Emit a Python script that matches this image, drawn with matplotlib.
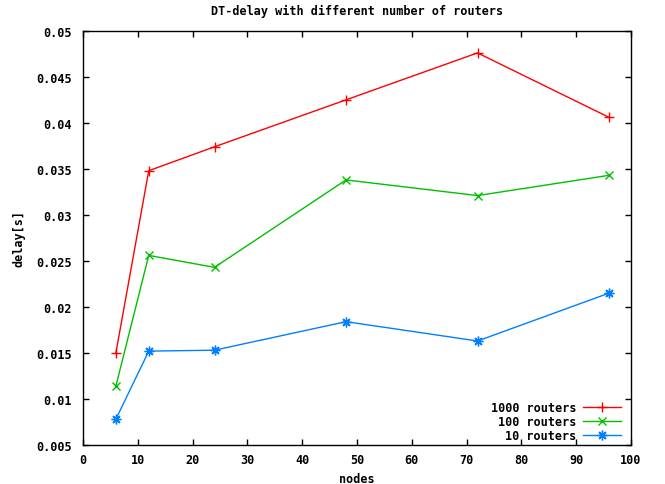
import matplotlib
matplotlib.use('Agg')
import matplotlib.pyplot as plt

# data
nodes = [6, 12, 24, 48, 72, 96]
delay_1000 = [0.0150, 0.0348, 0.0374, 0.0425, 0.0476, 0.0406]
delay_100 = [0.0114, 0.0256, 0.0243, 0.0338, 0.0321, 0.0343]
delay_10 = [0.0078, 0.0152, 0.0153, 0.0184, 0.0163, 0.0215]
labels = ['1000 routers', '100 routers', '10 routers']

xticks = list(range(0, 101, 10))
yticks = [0.005 * i for i in range(1, 11)]

plt.rcParams['font.family'] = 'DejaVu Sans Mono'
plt.rcParams['font.weight'] = 'bold'
plt.rcParams['font.size'] = 8.5

fig = plt.figure(figsize=(6.65, 4.85), dpi=100)
ax = fig.add_axes([0.1248, 0.0804, 0.824, 0.854])

ax.plot(nodes, delay_1000, color='#ff0000', marker='+', ms=7, mew=1, lw=1, label=labels[0])
ax.plot(nodes, delay_100, color='#00c000', marker='x', ms=6, mew=1, lw=1, label=labels[1])
ax.plot(nodes, delay_10, color='#0080ff', marker=(8, 2, 0), ms=7, mew=1, lw=1, label=labels[2])

ax.set_xlim(0, 100)
ax.set_ylim(0.005, 0.05)
ax.set_xticks(xticks)
ax.set_yticks(yticks)
ax.set_xticklabels([str(t) for t in xticks])
ax.set_yticklabels(['%g' % round(t, 3) for t in yticks])
ax.tick_params(direction='in', top=True, right=True, length=4, width=1)
ax.tick_params(axis='x', pad=6)
ax.tick_params(axis='y', pad=8)
for s in ax.spines.values():
    s.set_linewidth(1)

ax.set_title('DT-delay with different number of routers', fontsize=8.5, fontweight='bold', pad=12)
ax.set_xlabel('nodes', fontweight='bold', labelpad=4)
ax.set_ylabel('delay[s]', fontweight='bold', labelpad=8)

leg = ax.legend(loc='lower right', bbox_to_anchor=(0.995, -0.01), frameon=False, markerfirst=False,
                handlelength=3.2, labelspacing=0.1, borderaxespad=0.2, handletextpad=0.6)
for t in leg.get_texts():
    t.set_ha('right')
leg._legend_box.align = 'right'

fig.savefig('out.png', dpi=100)
